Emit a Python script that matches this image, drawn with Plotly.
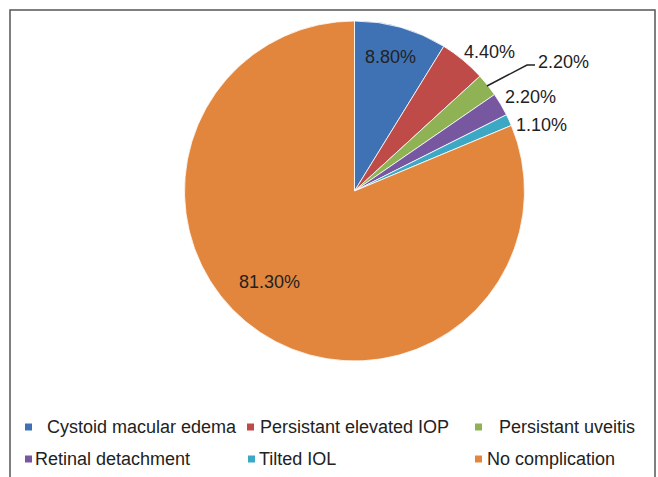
import plotly.graph_objects as go

categories = ["Cystoid macular edema", "Persistant elevated IOP", "Persistant uveitis",
              "Retinal detachment", "Tilted IOL", "No complication"]
values = [8.8, 4.4, 2.2, 2.2, 1.1, 81.3]
value_labels = ["8.80%", "4.40%", "2.20%", "2.20%", "1.10%", "81.30%"]
colors = ["#3F72B5", "#BE4B48", "#8FB354", "#7657A0", "#3CA8C4", "#E2863D"]

W, H = 658, 477

fig = go.Figure(go.Pie(
    labels=categories, values=values, sort=False, direction="clockwise", rotation=0,
    marker=dict(colors=colors, line=dict(color="white", width=0.8)),
    textinfo="none", hoverinfo="label+percent", showlegend=False,
    domain=dict(x=[184.5 / W, 524.5 / W], y=[1 - 361 / H, 1 - 21 / H]),
))

def px(x):
    return x / W

def py(y):
    return 1 - y / H

# data labels
label_pos = [(390, 57), (489, 52), (563, 62), (530, 97), (541, 125), (269, 282)]
font_lbl = dict(family="Liberation Sans, Arial, sans-serif", size=18, color="#222222")
annotations = []
for txt, (x, y) in zip(value_labels, label_pos):
    annotations.append(dict(x=px(x), y=py(y), xref="paper", yref="paper", text=txt,
                            showarrow=False, font=font_lbl, xanchor="center", yanchor="middle"))

shapes = []
# leader line for the green label
shapes.append(dict(type="path", xref="paper", yref="paper",
                   path=f"M {px(487)} {py(86)} L {px(527)} {py(65)} L {px(535)} {py(65)}",
                   line=dict(color="#222222", width=1.5)))

# legend (manual, two rows): (marker x, row y, text x)
legend_items = [(25, 427, 45), (247, 427, 258), (475, 427, 497),
                (25, 459, 33), (248, 459, 257), (475, 459, 485)]
font_leg = dict(family="Liberation Sans, Arial, sans-serif", size=18, color="#222222")
for cat, col, (mx, my, tx) in zip(categories, colors, legend_items):
    shapes.append(dict(type="rect", xref="paper", yref="paper",
                       x0=px(mx), x1=px(mx + 7), y0=py(my + 3.5), y1=py(my - 3.5),
                       fillcolor=col, line=dict(width=0)))
    annotations.append(dict(x=px(tx), y=py(my), xref="paper", yref="paper", text=cat,
                            showarrow=False, font=font_leg, xanchor="left", yanchor="middle"))

# outer frame
shapes.append(dict(type="rect", xref="paper", yref="paper",
                   x0=px(10), x1=px(655), y0=py(490), y1=py(10),
                   line=dict(color="#555555", width=1.5), fillcolor="rgba(0,0,0,0)"))

fig.update_layout(width=W, height=H, margin=dict(l=0, r=0, t=0, b=0),
                  paper_bgcolor="white", plot_bgcolor="white",
                  annotations=annotations, shapes=shapes)

fig.write_html("out.html", config={"displayModeBar": False},
               post_script="document.body.style.margin='0';document.body.style.overflow='hidden';")
